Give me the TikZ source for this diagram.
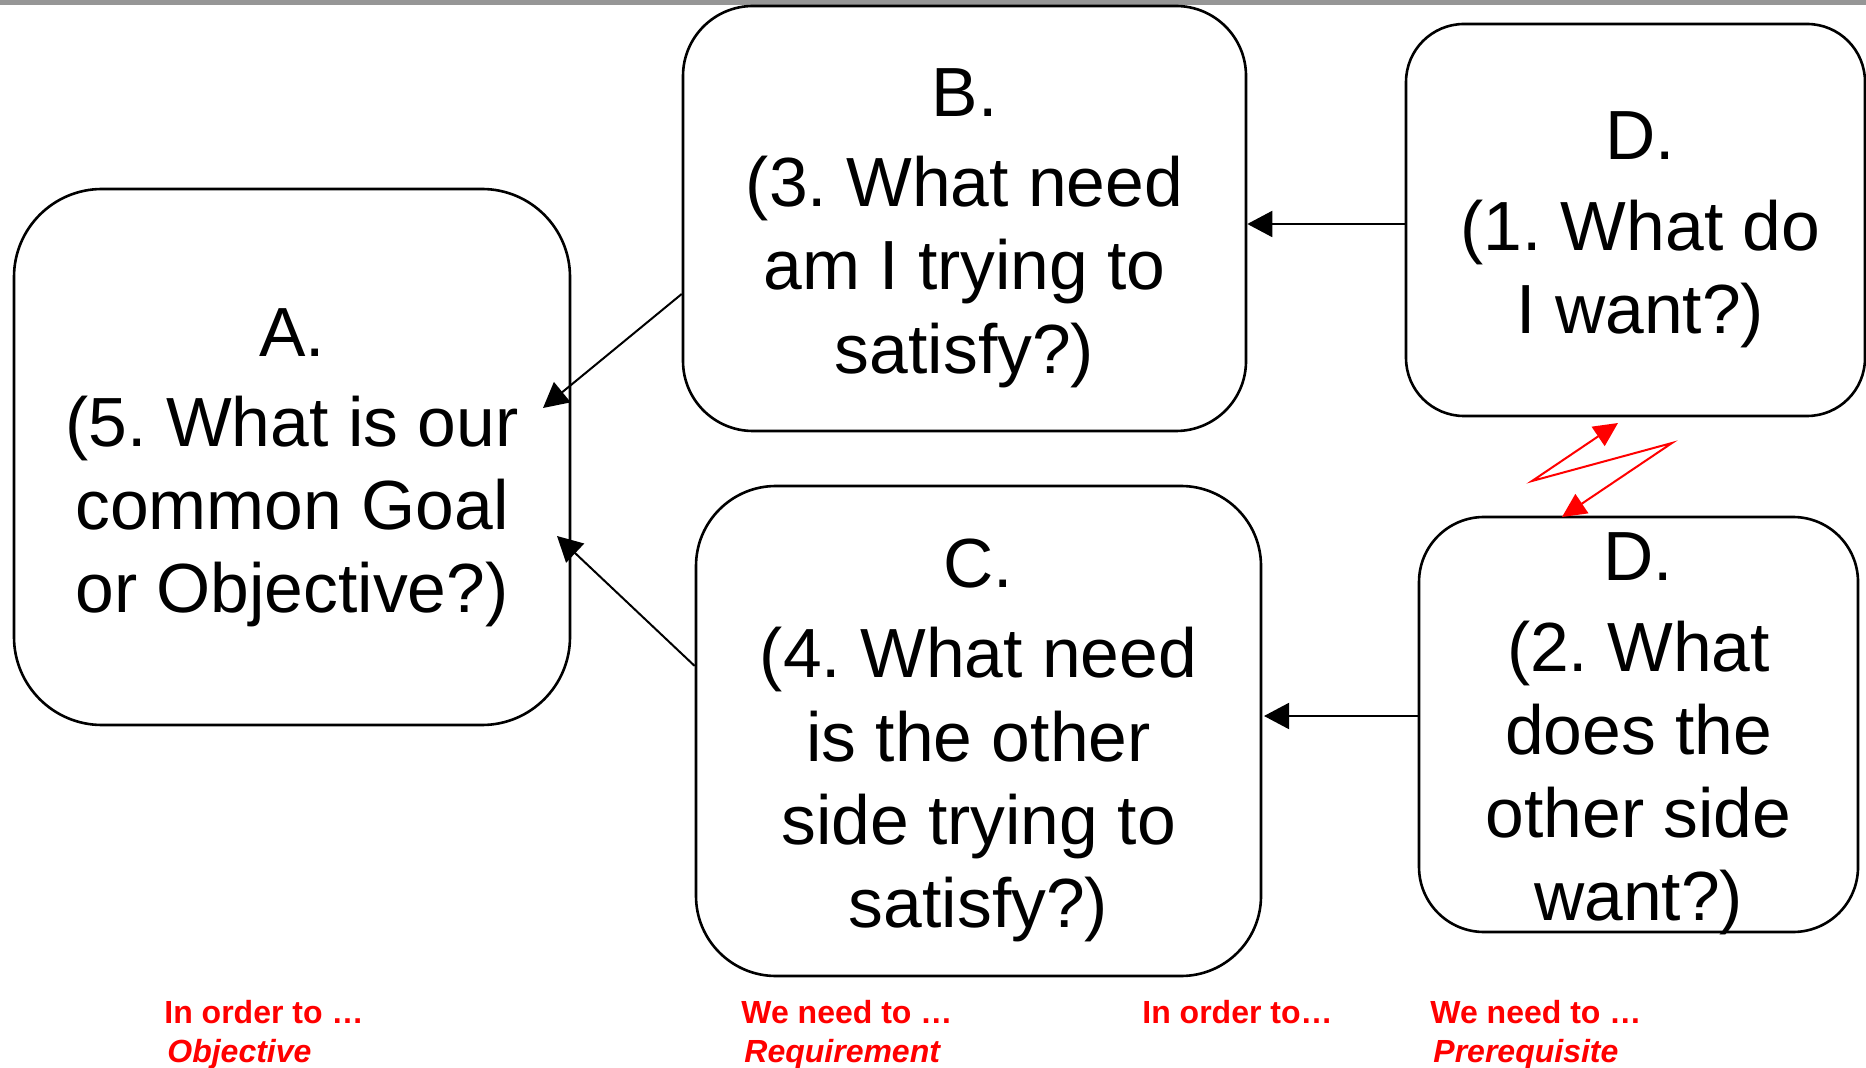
\documentclass[tikz,border=0pt]{standalone}
\usepackage{fontspec}
\setmainfont{Liberation Sans}
\usetikzlibrary{arrows.meta,calc}
\definecolor{bargray}{RGB}{150,150,150}
\frenchspacing
% centred paragraph, lowered by #1 inside its node; its box is trimmed so it never sizes the node
\newcommand{\qtext}[3]{\raisebox{0pt}[\dimexpr\height+#1-15pt\relax][\dimexpr\depth-#1-15pt\relax]{\parbox{#2}{\centering #3}}}
\begin{document}
\begin{tikzpicture}[x=0.5pt,y=-0.5pt,
  qbox/.style={draw=black, line width=1.3pt, align=center, inner sep=0pt,
    font=\fontsize{34.8pt}{41.65pt}\selectfont},
  arr/.style={draw=black, line width=1pt, -{Triangle[length=12.5pt,width=13pt]}},
  zap/.style={draw=red, line width=1pt,
    {Triangle[length=12pt,width=11.5pt]}-{Triangle[length=12pt,width=11.5pt]}},
  tag/.style={anchor=base west, inner sep=0pt, text=red,
    font=\fontsize{16pt}{19.6pt}\selectfont\bfseries},
  tagit/.style={tag, font=\fontsize{16pt}{19.6pt}\selectfont\bfseries\itshape}]

% page and top rule
\useasboundingbox (0,0) rectangle (1866,1068);
\fill[white] (0,0) rectangle (1866,1068);
\fill[bargray] (0,0) rectangle (1866,4.7);

% question boxes
\node[qbox, minimum width=278pt, minimum height=268pt, rounded corners=44pt]
  (A) at (292,457) {\qtext{5.4pt}{275pt}{A.\\[3.5pt](5. What is our\\common Goal\\or Objective?)}};
\node[qbox, minimum width=281.5pt, minimum height=212.5pt, rounded corners=35pt]
  (B) at (964.5,218.5) {\qtext{4.8pt}{278pt}{B.\\[3.5pt](3. What need\\am I trying to\\satisfy?)}};
\node[qbox, minimum width=229.5pt, minimum height=196pt, rounded corners=29pt]
  (D1) at (1635.5,220) {\hspace*{4.8pt}\qtext{5pt}{220pt}{D.\\[3.5pt](1. What do\\I want?)}};
\node[qbox, minimum width=282.5pt, minimum height=245pt, rounded corners=40pt]
  (C) at (978.5,731) {\qtext{4.8pt}{279pt}{C.\\[3.5pt](4. What need\\is the other\\side trying to\\satisfy?)}};
\node[qbox, minimum width=219.5pt, minimum height=207.5pt, rounded corners=32.5pt]
  (D2) at (1638.5,724.5) {\qtext{4.8pt}{216pt}{D.\\[3.5pt](2. What\\does the\\other side\\want?)}};

% connector end points
\coordinate (bOut) at (B.west |- 0,294);
\coordinate (aInTop) at (543,408);
\coordinate (cOut) at (C.west |- 0,666);
\coordinate (aInLow) at (557,536);
\coordinate (d1Out) at (D1.west |- 0,224);
\coordinate (bIn) at (B.east |- 0,224);
\coordinate (d2Out) at (D2.west |- 0,716);
\coordinate (cIn) at (1264,716);

% conflict zig-zag between the two D boxes
\coordinate (zTop) at (1618,423);
\coordinate (zKinkL) at (1532,481);
\coordinate (zKinkR) at (1672,443);
\coordinate (zBot) at (1562,517);

\draw[arr] (bOut) -- (aInTop);
\draw[arr] (cOut) -- (aInLow);
\draw[arr] (d1Out) -- (bIn);
\draw[arr] (d2Out) -- (cIn);
\draw[zap] (zTop) -- (zKinkL) -- (zKinkR) -- (zBot);

% reading aids along the bottom
\node[tag] (t1) at (164,1023) {In order to …};
\node[tagit] (t1b) at (167,1062) {Objective};
\node[tag] (t2) at (741,1023) {We need to …};
\node[tagit] (t2b) at (744,1062) {Requirement};
\node[tag] (t3) at (1142,1023) {In order to…};
\node[tag] (t4) at (1430,1023) {We need to …};
\node[tagit] (t4b) at (1433,1062) {Prerequisite};
\end{tikzpicture}
\end{document}
